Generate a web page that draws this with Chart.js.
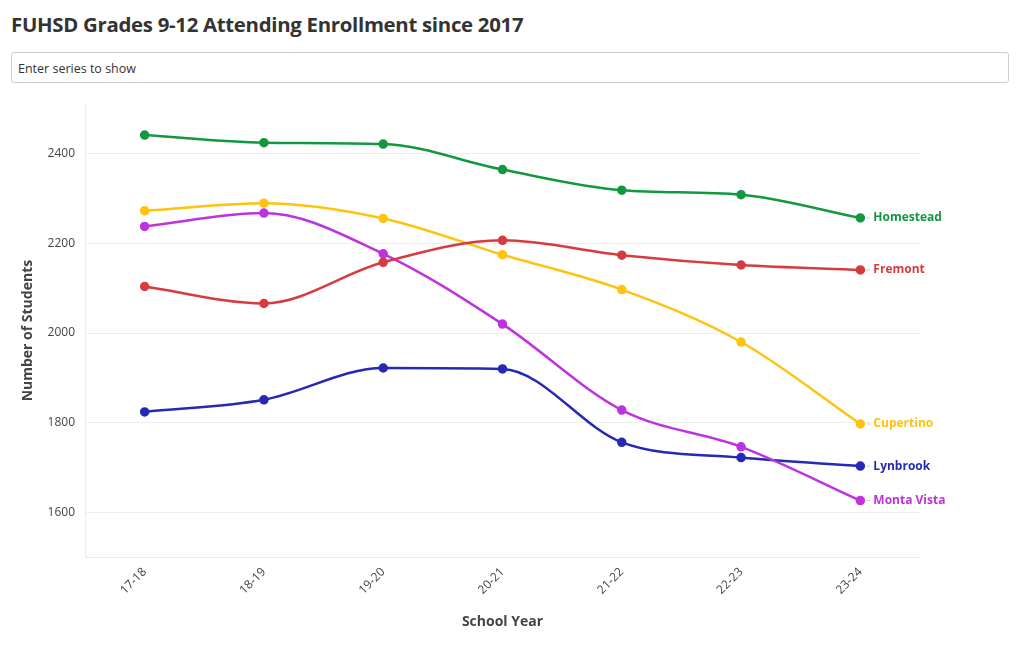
<!DOCTYPE html>
<html lang="en">
<head>
    <meta charset="UTF-8">
    <title>FUHSD Grades 9-12 Attending Enrollment since 2017</title>
    <script src="https://cdn.jsdelivr.net/npm/chart.js"></script>
    <style>
        body {
            margin: 0;
            width: 1020px;
            height: 650px;
            background: #fff;
            font-family: "Open Sans", Lato, sans-serif;
            position: relative;
            overflow: hidden;
        }
        h1 {
            position: absolute;
            left: 11px;
            top: 10px;
            margin: 0;
            font-size: 20.4px;
            font-weight: bold;
            color: #333;
            letter-spacing: -0.3px;
        }
        .series-input {
            position: absolute;
            left: 11px;
            top: 52px;
            width: 998px;
            height: 31px;
            box-sizing: border-box;
            border: 1px solid #ccc;
            border-radius: 3px;
            font-size: 12.5px;
            color: #333;
            padding: 7px 6px;
        }
        .chart-box {
            position: absolute;
            left: 0;
            top: 87px;
            width: 1020px;
            height: 563px;
        }
    </style>
</head>
<body>
    <h1>FUHSD Grades 9-12 Attending Enrollment since 2017</h1>
    <div class="series-input">Enter series to show</div>
    <div class="chart-box"><canvas id="enrollChart"></canvas></div>

    <script>
        const years = ['17-18', '18-19', '19-20', '20-21', '21-22', '22-23', '23-24'];
        const yTicks = [1600, 1800, 2000, 2200, 2400];

        const homestead = [2442, 2425, 2422, 2365, 2319, 2309, 2257];
        const fremont = [2104, 2066, 2158, 2207, 2174, 2152, 2141];
        const cupertino = [2273, 2290, 2256, 2175, 2097, 1980, 1797];
        const montaVista = [2238, 2268, 2177, 2020, 1828, 1746, 1626];
        const lynbrook = [1824, 1851, 1922, 1920, 1756, 1722, 1703];

        const schools = [
            { name: 'Homestead', data: homestead, color: '#13983f' },
            { name: 'Fremont', data: fremont, color: '#d63b3f' },
            { name: 'Cupertino', data: cupertino, color: '#fdc30f' },
            { name: 'Monta Vista', data: montaVista, color: '#bd33de' },
            { name: 'Lynbrook', data: lynbrook, color: '#2529b3' }
        ];

        // labels at the right end of each line
        const endLabels = {
            id: 'endLabels',
            afterDatasetsDraw(chart) {
                const ctx = chart.ctx;
                ctx.save();
                ctx.font = 'bold 12px "Open Sans", Lato, sans-serif';
                ctx.textBaseline = 'middle';
                chart.data.datasets.forEach((ds, i) => {
                    const pts = chart.getDatasetMeta(i).data;
                    const p = pts[pts.length - 1];
                    ctx.strokeStyle = '#ccc';
                    ctx.lineWidth = 1;
                    ctx.beginPath();
                    ctx.moveTo(p.x + 6, p.y);
                    ctx.lineTo(p.x + 10, p.y);
                    ctx.stroke();
                    ctx.fillStyle = ds.borderColor;
                    ctx.fillText(ds.label, p.x + 13, p.y);
                });
                ctx.restore();
            }
        };

        new Chart(document.getElementById('enrollChart'), {
            type: 'line',
            data: {
                labels: years,
                datasets: schools.map(s => ({
                    label: s.name,
                    data: s.data,
                    borderColor: s.color,
                    backgroundColor: s.color,
                    borderWidth: 2.5,
                    pointRadius: 3.5,
                    pointHoverRadius: 4,
                    cubicInterpolationMode: 'monotone'
                }))
            },
            options: {
                responsive: true,
                maintainAspectRatio: false,
                animation: false,
                layout: { padding: { top: 0, right: 100, left: 0, bottom: 0 } },
                plugins: {
                    legend: { display: false },
                    tooltip: { enabled: false }
                },
                scales: {
                    x: {
                        offset: true,
                        grid: { display: false, drawTicks: false },
                        border: { color: '#eee' },
                        ticks: {
                            color: '#444',
                            font: { size: 12, family: '"Open Sans", Lato, sans-serif' },
                            minRotation: 45,
                            maxRotation: 45,
                            padding: 8
                        },
                        title: {
                            display: true,
                            text: 'School Year',
                            color: '#444',
                            font: { size: 14, weight: 'bold', family: '"Open Sans", Lato, sans-serif' },
                            padding: { top: 0, bottom: 20 }
                        },
                        afterFit(axis) { axis.height = 93; }
                    },
                    y: {
                        min: 1500,
                        max: 2511,
                        afterBuildTicks(axis) {
                            axis.ticks = yTicks.map(v => ({ value: v }));
                        },
                        grid: { color: '#eee', drawTicks: false },
                        border: { color: '#eee' },
                        ticks: {
                            color: '#444',
                            font: { size: 12, family: '"Open Sans", Lato, sans-serif' },
                            padding: 10,
                            callback: v => String(v)
                        },
                        title: {
                            display: true,
                            text: 'Number of Students',
                            color: '#444',
                            font: { size: 14, weight: 'bold', family: '"Open Sans", Lato, sans-serif' },
                            padding: { top: 20, bottom: 0 }
                        },
                        afterFit(axis) { axis.width = 85; }
                    }
                }
            },
            plugins: [endLabels]
        });
    </script>
</body>
</html>
